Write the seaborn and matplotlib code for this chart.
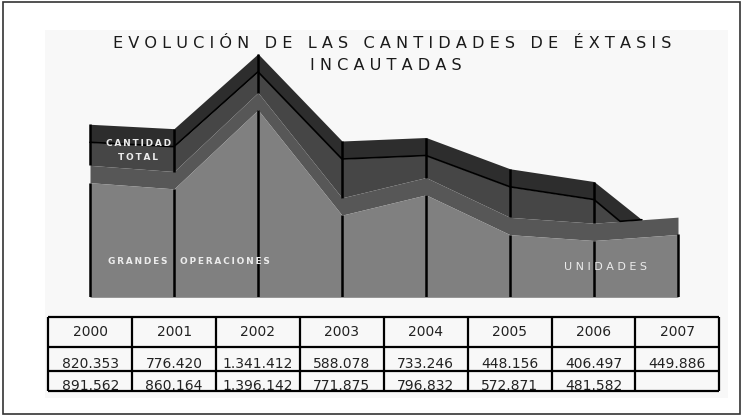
import numpy as np
import matplotlib
matplotlib.use("Agg")
import matplotlib.pyplot as plt
import seaborn as sns
from matplotlib.patches import Rectangle

# data (miles de unidades)
years = ["2000", "2001", "2002", "2003", "2004", "2005", "2006", "2007"]
unidades = [820.353, 776.420, 1341.412, 588.078, 733.246, 448.156, 406.497, 449.886]
cantidad_total = [891.562, 860.164, 1396.142, 771.875, 796.832, 572.871, 481.582]
unidades_txt = ["820.353", "776.420", "1.341.412", "588.078", "733.246", "448.156", "406.497", "449.886"]
total_txt = ["891.562", "860.164", "1.396.142", "771.875", "796.832", "572.871", "481.582", ""]

# pseudo-3D styling (in data units / fractions of a year)
BAND = 124      # thickness of the "unidades" ribbon top
OFFSET = 218    # lift of the total ribbon
TOP = 129       # thickness of the total ribbon top face
TAPER_FRONT, TAPER_TOP = 0.31, 0.57

C_LIGHT, C_MED, C_FRONT, C_TOP = "#808080", "#575757", "#464646", "#2d2d2d"

W, H = 742, 416
sns.set_theme(style="white")
plt.rcParams["font.family"] = ["DejaVu Sans"]
fig = plt.figure(figsize=(W / 100, H / 100), dpi=100)
fig.patch.set_facecolor("white")

def fx(px):
    return px / W

def fy(py):
    return 1 - py / H

# faint panel + outer frame
fig.patches.append(Rectangle((fx(45), fy(398)), fx(728) - fx(45), fy(30) - fy(398),
                             transform=fig.transFigure, facecolor="#f8f8f8", edgecolor="none", zorder=-2))
fig.patches.append(Rectangle((fx(3), fy(414)), fx(740) - fx(3), fy(2) - fy(414),
                             transform=fig.transFigure, facecolor="none", edgecolor="#333333", lw=1.2, zorder=-1))

# ---- area chart ----
ppx, ppy = 84.0, 0.1397
x0, y0 = 90.0, 297.3
ymax = 1800
ax = fig.add_axes([fx(x0 - 0.2 * ppx), fy(y0), 7.4 * ppx / W, ymax * ppy / H])
ax.set_xlim(-0.2, 7.2)
ax.set_ylim(0, ymax)
ax.axis("off")
ax.patch.set_alpha(0)

xi = np.arange(len(years))
uni = np.array(unidades)
tot = np.array(cantidad_total)
xt = np.arange(len(tot))

band_top = uni + BAND
def band_at(x):
    return np.interp(x, xi, band_top)

# total ribbon, tapering into the unidades ribbon after the last year
xs = np.concatenate([xt, [xt[-1] + TAPER_FRONT, xt[-1] + TAPER_TOP]])
front = np.concatenate([tot + OFFSET, [band_at(xs[-2]), band_at(xs[-1])]])
top_last = tot[-1] + OFFSET + TOP
top_mid = np.interp(TAPER_FRONT, [0, TAPER_TOP], [top_last, band_at(xs[-1])])
top = np.concatenate([tot + OFFSET + TOP, [top_mid, band_at(xs[-1])]])

ax.fill_between(xs, band_at(xs), front, color=C_FRONT, lw=0, zorder=1)
ax.fill_between(xs, front, top, color=C_TOP, lw=0, zorder=1)
sns.lineplot(x=xs, y=front, color="black", lw=1.2, ax=ax, zorder=3)

# unidades ribbon
ax.fill_between(xi, uni, band_top, color=C_MED, lw=0, zorder=2)
ax.fill_between(xi, 0, uni, color=C_LIGHT, lw=0, zorder=2)

# vertical year lines
ax.vlines(xi, 0, uni, color="black", lw=1.8, zorder=4)
ax.vlines(xt, band_top[:len(xt)], tot + OFFSET + TOP, color="black", lw=1.8, zorder=4)

# labels inside the chart
lab = dict(color="#ececec", ha="center", va="center", zorder=5)
sp = "\u2009"
fig.text(fx(139), fy(144), sp.join("CANTIDAD"), fontsize=6.5, fontweight="bold", **lab)
fig.text(fx(138), fy(157), sp.join("TOTAL"), fontsize=6.5, fontweight="bold", **lab)
fig.text(fx(189), fy(261), sp.join("GRANDES") + "    " + sp.join("OPERACIONES"),
         fontsize=6.5, fontweight="bold", **lab)
fig.text(fx(606), fy(267.5), " ".join("UNIDADES"), fontsize=8, **lab)

# title
t1 = "EVOLUCIÓN DE LAS CANTIDADES DE ÉXTASIS"
t2 = "INCAUTADAS"
fig.text(fx(392), fy(43.5), " ".join(t1), fontsize=11.6, color="#1a1a1a", ha="center", va="center")
fig.text(fx(386), fy(65), " ".join(t2), fontsize=11.6, color="#1a1a1a", ha="center", va="center")

# ---- data table ----
tl, tt, tr, tb = 48.3, 316.7, 719.3, 391.0
axt = fig.add_axes([fx(tl), fy(tb), fx(tr) - fx(tl), fy(tt) - fy(tb)])
axt.set_xlim(0, len(years))
axt.set_ylim(tb - tt, 0)
axt.axis("off")
axt.patch.set_facecolor("white")
axt.patch.set_alpha(1)
r1, r2 = 30.0, 54.3
for i, yr in enumerate(years):
    axt.text(i + 0.5, r1 / 2, yr, fontsize=10, color="#222222", ha="center", va="center")
    axt.text(i + 0.5, r2 - 0.5, unidades_txt[i], fontsize=10, color="#222222", ha="center", va="bottom")
    axt.text(i + 0.5, tb - tt + 1.5, total_txt[i], fontsize=10, color="#222222", ha="center",
             va="bottom", clip_on=True)
lk = dict(color="black", lw=1.6, clip_on=False, zorder=5)
axt.hlines([0, r1, r2, tb - tt], 0, len(years), **lk)
axt.vlines(np.arange(len(years) + 1), 0, tb - tt, **lk)

fig.savefig("out.png", dpi=100, facecolor="white")
